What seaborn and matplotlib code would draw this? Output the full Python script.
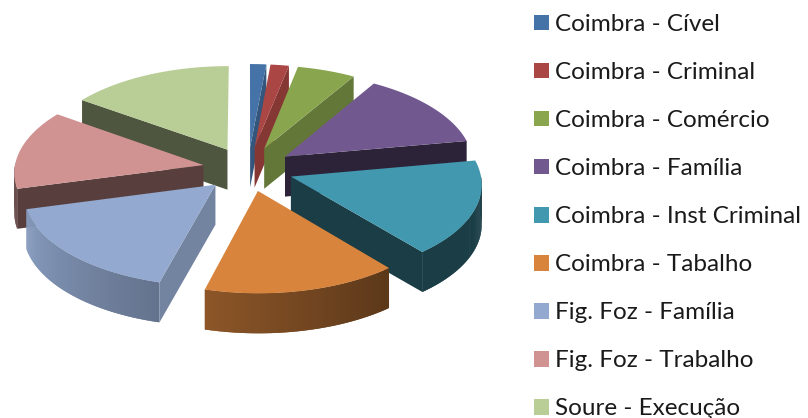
import numpy as np
import matplotlib
matplotlib.use("Agg")
import matplotlib.pyplot as plt
from matplotlib.patches import Patch, Polygon
from matplotlib.collections import PolyCollection
from matplotlib.colors import to_rgb
import seaborn as sns

# ---- data ----
categories = ["Coimbra - Cível", "Coimbra - Criminal", "Coimbra - Comércio",
              "Coimbra - Família", "Coimbra - Inst Criminal", "Coimbra - Tabalho",
              "Fig. Foz - Família", "Fig. Foz - Trabalho", "Soure - Execução"]
values = [1.5, 1.7, 5.4, 13.6, 16.7, 15.3, 16.7, 13.9, 15.2]

# ---- style ----
colors = ["#4573A7", "#AA4643", "#89A54E", "#71588F", "#4198AF",
          "#D8843D", "#93A9CF", "#D19392", "#B9CD96"]
wall_shade = [0.75, 0.78, 0.72, 0.40, 0.40, 0.40, 0.78, 0.42, 0.42]
rim_shade = [(.6, .6), (.6, .6), (.6, .6), (.4, .4), (.40, .40),
             (.42, .65), (.68, .93), (.45, .65), (.5, .5)]

CX, CY, RX, RY, PERSP, EXPLODE, DEPTH = 248, 169, 189, 92, 0.07, 0.24, 40

sns.set_theme(style="white")
plt.rcParams["font.family"] = ["Lato", "DejaVu Sans"]
palette = sns.color_palette(colors)

fig = plt.figure(figsize=(8.08, 4.18), dpi=100)
ax = fig.add_axes([0, 0, 1, 1])
ax.set_xlim(0, 808)
ax.set_ylim(418, 0)
ax.axis("off")


def project(X, Y, drop=0.0):
    s = 1.0 / (1.0 + PERSP * Y)
    return CX + RX * X * s, CY - RY * Y * s + drop


def shade(col, f):
    return tuple(np.clip(np.array(to_rgb(col)) * f, 0, 1))


fractions = np.array(values, dtype=float) / np.sum(values) * 360
ends = np.cumsum(fractions)
starts = ends - fractions
mids = (starts + ends) / 2
order = list(np.argsort(-np.cos(np.radians(mids))))

for i in order:
    a, b, m = starts[i], ends[i], np.radians(mids[i])
    z = 1 + 3 * order.index(i)
    ox, oy = EXPLODE * np.sin(m), EXPLODE * np.cos(m)
    th = np.radians(np.linspace(a, b, max(int(b - a) * 2, 4) + 1))
    rx, ry = ox + np.sin(th), oy + np.cos(th)
    px, py = project(rx, ry)
    ax_, ay_ = project(ox, oy)
    top = np.column_stack([np.r_[ax_, px], np.r_[ay_, py]])

    # curved outer wall, front-facing part only, with a left/right gradient;
    # each quad overlaps the next one so no seams appear
    n = len(th) - 1
    quads, fc = [], []
    for k in range(n):
        if np.cos((th[k] + th[k + 1]) / 2) < 0.02:
            e = min(k + 2, n)
            quads.append([(px[k], py[k]), (px[e], py[e]),
                          (px[e], py[e] + DEPTH), (px[k], py[k] + DEPTH)])
            t = (k + 0.5) / n
            fc.append(shade(palette[i], rim_shade[i][0] + (rim_shade[i][1] - rim_shade[i][0]) * t))
    if quads:
        ax.add_collection(PolyCollection(quads, facecolors=fc, edgecolors="none",
                                         linewidths=0, zorder=z))

    # flat cut faces that look towards the viewer
    for vis, (ex, ey) in ((np.sin(np.radians(a)) < 0, (px[0], py[0])),
                          (np.sin(np.radians(b)) > 0, (px[-1], py[-1]))):
        if vis:
            ax.add_patch(Polygon([(ax_, ay_), (ex, ey), (ex, ey + DEPTH), (ax_, ay_ + DEPTH)],
                                 closed=True, fc=shade(palette[i], wall_shade[i]),
                                 ec="none", zorder=z + 1))
    ax.add_patch(Polygon(top, closed=True, fc=palette[i], ec="none", zorder=z + 2))

handles = [Patch(fc=c, ec="none") for c in palette]
ax.legend(handles, categories, loc="upper left", bbox_to_anchor=(534 / 808, 1 - 14 / 418),
          frameon=False, fontsize=17.5, handlelength=0.617, handleheight=0.617,
          handletextpad=0.25, labelspacing=1.113, borderpad=0, borderaxespad=0,
          labelcolor="#1a1a1a")

fig.savefig("out.png", dpi=100)
